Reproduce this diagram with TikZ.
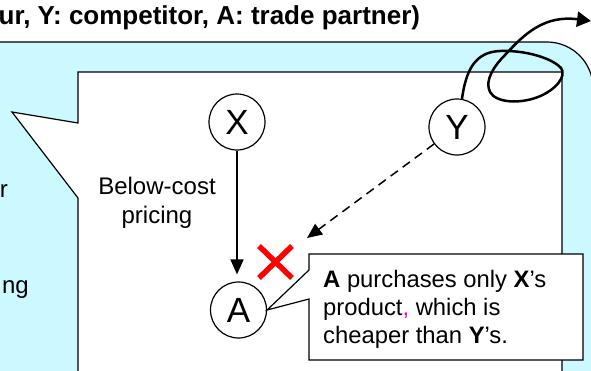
\documentclass[tikz,border=0pt]{standalone}
\usepackage{fontspec}
\setmainfont{Liberation Sans}
\usetikzlibrary{arrows.meta}
\definecolor{panelcyan}{RGB}{204,248,255}
\definecolor{commapink}{RGB}{230,0,230}
\begin{document}
\begin{tikzpicture}[x=1pt,y=-1pt,
  party/.style={circle,draw,line width=1.2pt,minimum size=56pt,inner sep=0pt,
    fill=white,font=\fontsize{35}{35}\selectfont},
  flow/.style={line width=1.5pt,-{Triangle[length=15pt,width=13pt]}},
  plain/.style={inner sep=0pt,font=\fontsize{24}{29}\selectfont},
  outline/.style={line width=1.2pt}]
\useasboundingbox (0,0) rectangle (591,370);

% light cyan panel with rounded upper right corner
\draw[outline,fill=panelcyan,rounded corners=46pt]
  (-100,420) -- (-100,42) -- (593,42) -- (593,420);

% white speech panel pointing to the left
\draw[outline,fill=white]
  (78,380) -- (78,198) -- (12,112) -- (78,123) -- (78,72) -- (562,72) -- (562,380);

% heading and text fragments on the cyan panel
\node[anchor=base west,inner sep=0pt,font=\fontsize{26}{26}\selectfont\bfseries]
  (title) at (-1.5,24.5) {ur, Y: competitor, A: trade partner)};
\node[plain,anchor=base east] (fragr) at (8,197) {r};
\node[plain,anchor=base east] (fragng) at (29,293) {ng};

% parties
\node[party] (X) at (237,122) {X};
\node[party] (Y) at (457,127) {Y};
\node[party] (A) at (238.5,310) {A};

% below-cost sale from X to A
\draw[flow,shorten >=7pt] (X) -- (X |- A.north);
\node[plain,align=center,anchor=north] (below) at (157,176.5) {Below-cost\\pricing};

% Y's blocked offer to A
\coordinate (ytip) at (307,238);
\draw[flow,dash pattern=on 9pt off 6pt] (Y) -- (ytip);
\draw[red,line width=5.5pt] (259,246) -- (292,278) (259,278) -- (292,246);

% Y exits the market
\coordinate (loopend) at (591,21);
\draw[line width=2.5pt,-{Triangle[length=14pt,width=15pt]}]
  (Y.80) .. controls (466,70) and (475,52) .. (500,51)
  .. controls (525,50) and (552,58) .. (561,68)
  .. controls (567,76) and (556,90) .. (538,97)
  .. controls (520,104) and (496,103) .. (490,92)
  .. controls (484,80) and (495,65) .. (505,55)
  .. controls (525,33) and (545,15) .. (loopend);

% callout attached to A
\coordinate (nw) at (309,254);
\coordinate (se) at (583,360);
\draw[outline,fill=white]
  (A.east) -- (309,270) -- (nw) -- (se |- nw) -- (se) -- (nw |- se) -- (309,299) -- cycle;
\node[anchor=north west,inner sep=0pt,align=left,font=\fontsize{23.8}{28}\selectfont]
  (note) at (323,270)
  {\textbf{A} purchases only \textbf{X}’s\\
   product{\color{commapink},} which is\\
   cheaper than \textbf{Y}’s.};
\end{tikzpicture}
\end{document}
